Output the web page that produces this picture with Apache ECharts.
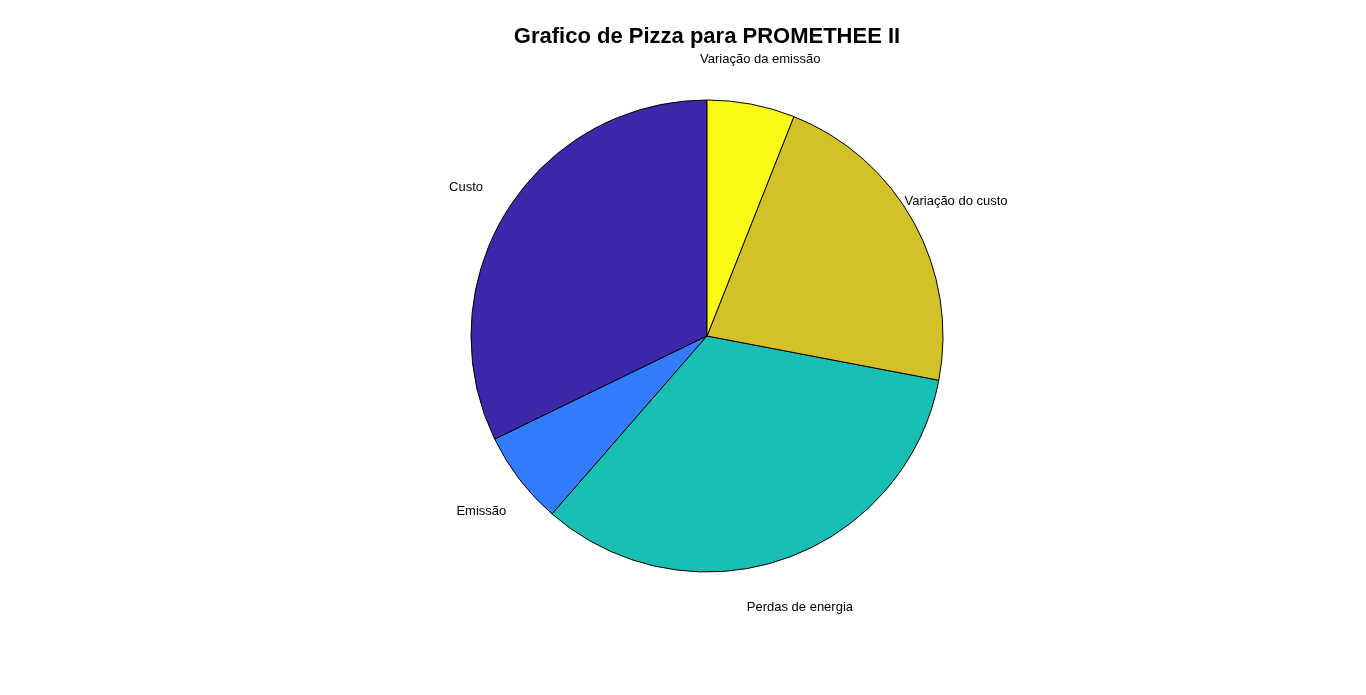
<!DOCTYPE html>
<html>
<head>
<meta charset="utf-8">
<script src="https://cdn.jsdelivr.net/npm/echarts@6/dist/echarts.min.js"></script>
<style>
  html, body { margin: 0; padding: 0; background: #fff; }
  #chart { width: 1366px; height: 695px; }
</style>
</head>
<body>
<div id="chart"></div>
<script>
// fatias, na ordem do MATLAB (anti-horario a partir do topo)
const categorias = ['Custo', 'Emissão', 'Perdas de energia', 'Variação do custo', 'Variação da emissão'];
const valores = [0.322, 0.064, 0.334, 0.220, 0.060];
const cores = ['#3E28AA', '#337CFE', '#19BFB5', '#D3C129', '#F8FA14'];

const chart = echarts.init(document.getElementById('chart'));

const dados = categorias.map((c, i) => ({
  name: c,
  value: valores[i],
  itemStyle: { color: cores[i] }
}));

const raio = 236;

const option = {
  animation: false,
  title: {
    text: 'Grafico de Pizza para PROMETHEE II',
    // centralizado sobre o eixo (x=707), nao sobre a janela
    left: 707,
    textAlign: 'center',
    top: 26,
    padding: 0,
    textStyle: {
      fontFamily: 'Liberation Sans, Arial, sans-serif',
      fontSize: 22,
      fontWeight: 'bold',
      color: '#000'
    }
  },
  series: [
    {
      // pizza principal
      type: 'pie',
      center: [707, 336],
      radius: [0, raio],
      startAngle: 90,
      clockwise: false,
      silent: true,
      label: { show: false },
      labelLine: { show: false },
      itemStyle: { borderColor: '#000', borderWidth: 1 },
      data: dados
    },
    {
      // anel invisivel so para os rotulos (~1.2R)
      type: 'pie',
      center: [707, 338.5],
      radius: [raio - 2, raio * 1.4 - 2],
      startAngle: 90,
      clockwise: false,
      silent: true,
      minShowLabelAngle: 0,
      itemStyle: { color: 'rgba(0,0,0,0)', borderWidth: 0 },
      label: {
        show: true,
        position: 'inside',
        formatter: '{b}',
        color: '#000',
        fontSize: 13,
        fontFamily: 'Liberation Sans, Arial, sans-serif'
      },
      labelLine: { show: false },
      data: categorias.map((c, i) => ({ name: c, value: valores[i] }))
    }
  ]
};

chart.setOption(option);
</script>
</body>
</html>
